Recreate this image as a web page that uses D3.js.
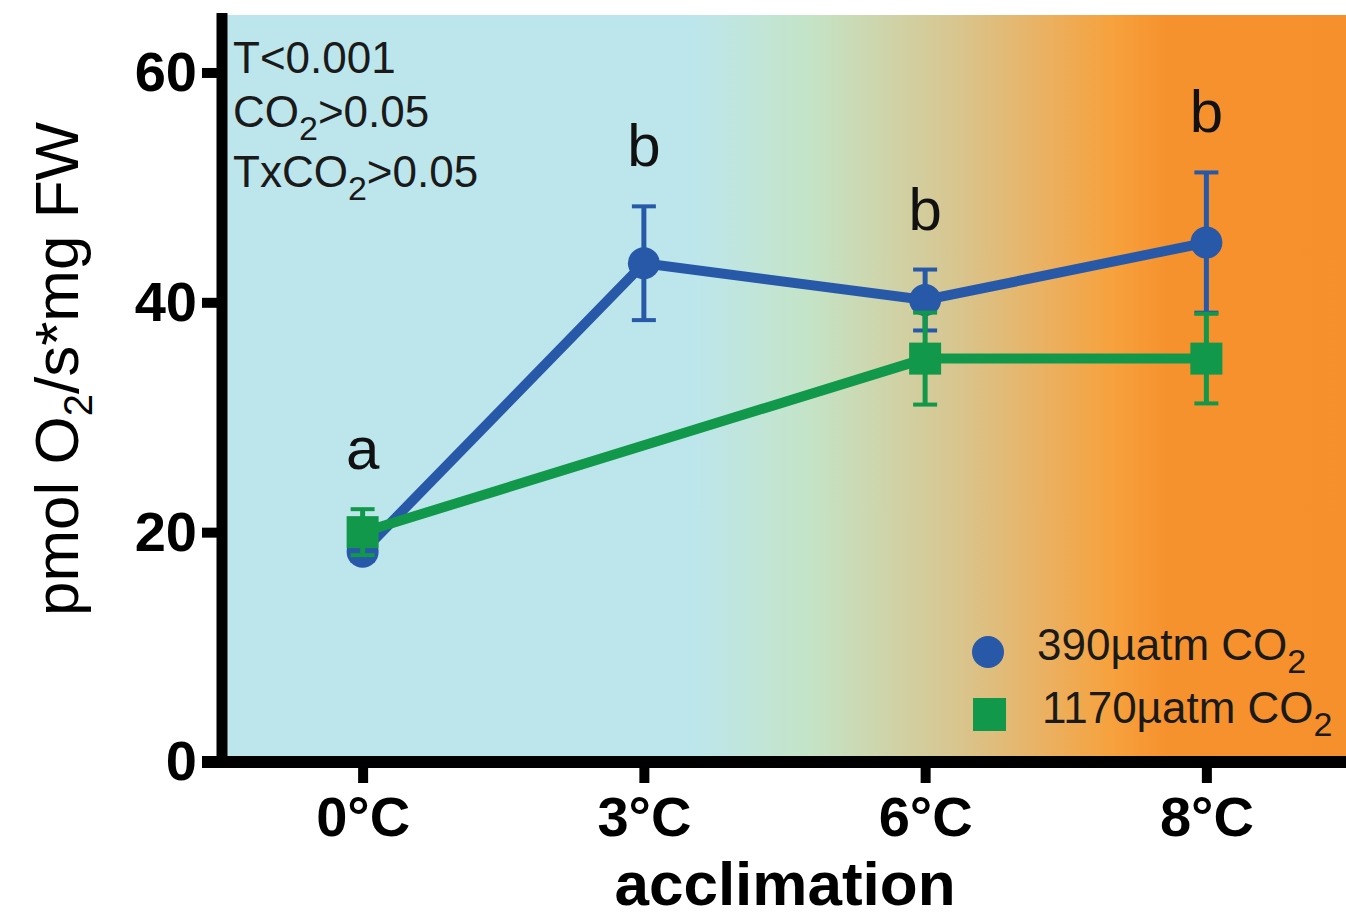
<!DOCTYPE html>
<html>
<head>
<meta charset="utf-8">
<script src="https://cdn.jsdelivr.net/npm/d3@7"></script>
<style>
  body { margin: 0; background: #fff; }
  text { font-family: "Liberation Sans", Arial, sans-serif; }
</style>
</head>
<body>
<div id="chart"></div>
<script>
// acclimation temperatures (categorical axis)
const categories = ['0°C', '3°C', '6°C', '8°C'];
const yTicks = [0, 20, 40, 60];

// 390 uatm CO2, mean and error
const blueMean = [18.3, 43.4, 40.2, 45.2];
const blueErr = [0.8, 4.95, 2.65, 6.1];
// 1170 uatm CO2 (no 3°C measurement)
const greenMean = [20.0, null, 35.1, 35.1];
const greenErr = [2.0, null, 4.0, 3.9];

const letters = ['a', 'b', 'b', 'b'];
const statLines = [['T<0.001'], ['CO', '2', '>0.05'], ['TxCO', '2', '>0.05']];
const legendLabels = ['390µatm CO', '1170µatm CO'];

const blue = '#2759a8';
const green = '#12984a';

drawChart('#chart');

function drawChart(id) {
    const width = 1346, height = 918;
    const left = 222, top = 15, bottom = 762, right = 1347;

    const svg = d3.select(id).append('svg')
        .attr('width', width)
        .attr('height', height)
        .style('display', 'block');

    const x = d3.scalePoint().domain(categories).range([left, right]).padding(0.5);
    const y = d3.scaleLinear().domain([0, 65]).range([bottom, top]);

    // background gradient cold -> warm
    const grad = svg.append('defs').append('linearGradient')
        .attr('id', 'bg').attr('x1', '0%').attr('x2', '100%');
    [[0, '#bde6ec'], [0.42, '#bde6ec'], [0.52, '#c4e4c8'], [0.655, '#d8c58e'],
     [0.735, '#ebb060'], [0.79, '#f6a23e'], [0.84, '#f6922e'], [1, '#f6902c']]
        .forEach(s => grad.append('stop').attr('offset', s[0]).attr('stop-color', s[1]));

    svg.append('rect')
        .attr('x', left).attr('y', top)
        .attr('width', width - left).attr('height', bottom - top)
        .attr('fill', 'url(#bg)');

    // stats text
    const statY = [73, 127, 187];
    statLines.forEach((l, i) => {
        const t = svg.append('text').attr('x', 233).attr('y', statY[i])
            .attr('font-size', 44).attr('fill', '#1a1a1a');
        t.append('tspan').text(l[0]);
        if (l.length > 2) {
            t.append('tspan').attr('font-size', 34).attr('dy', 13).text(l[1]);
            t.append('tspan').attr('dy', -13).text(l[2]);
        }
    });

    const series = [
        {mean: blueMean, err: blueErr, color: blue, shape: 'circle'},
        {mean: greenMean, err: greenErr, color: green, shape: 'square'}
    ];

    series.forEach(s => {
        const pts = categories.map((c, i) => ({c: c, v: s.mean[i], e: s.err[i]}))
            .filter(d => d.v != null);

        const g = svg.append('g');
        const line = d3.line().x(d => x(d.c)).y(d => y(d.v));
        g.append('path').datum(pts)
            .attr('d', line)
            .attr('fill', 'none')
            .attr('stroke', s.color)
            .attr('stroke-width', 10);

        // error bars
        g.selectAll(null).data(pts).enter().append('line')
            .attr('x1', d => x(d.c)).attr('x2', d => x(d.c))
            .attr('y1', d => y(d.v + d.e)).attr('y2', d => y(d.v - d.e))
            .attr('stroke', s.color).attr('stroke-width', 5);
        [1, -1].forEach(sign => {
            g.selectAll(null).data(pts).enter().append('line')
                .attr('x1', d => x(d.c) - 12).attr('x2', d => x(d.c) + 12)
                .attr('y1', d => y(d.v + sign * d.e))
                .attr('y2', d => y(d.v + sign * d.e))
                .attr('stroke', s.color).attr('stroke-width', 4);
        });

        if (s.shape === 'circle') {
            g.selectAll('circle').data(pts).enter().append('circle')
                .attr('cx', d => x(d.c)).attr('cy', d => y(d.v))
                .attr('r', 16).attr('fill', s.color);
        } else {
            g.selectAll('rect').data(pts).enter().append('rect')
                .attr('x', d => x(d.c) - 16).attr('y', d => y(d.v) - 16)
                .attr('width', 32).attr('height', 32).attr('fill', s.color);
        }
    });

    // significance letters above highest error bar
    svg.selectAll('.letter').data(categories).enter().append('text')
        .attr('class', 'letter')
        .attr('x', c => x(c))
        .attr('y', (c, i) => {
            const tops = series.filter(s => s.mean[i] != null).map(s => s.mean[i] + s.err[i]);
            return y(d3.max(tops)) - 40;
        })
        .attr('text-anchor', 'middle')
        .attr('font-size', 60)
        .attr('fill', '#111')
        .text((c, i) => letters[i]);

    // legend
    const legendX = 988, legendY = [652, 715];
    legendLabels.forEach((lab, i) => {
        const s = series[i];
        if (s.shape === 'circle') {
            svg.append('circle').attr('cx', legendX).attr('cy', legendY[i]).attr('r', 16).attr('fill', s.color);
        } else {
            svg.append('rect').attr('x', legendX - 15).attr('y', legendY[i] - 17)
                .attr('width', 33).attr('height', 33).attr('fill', s.color);
        }
        const t = svg.append('text').attr('x', i === 0 ? 1037 : 1042).attr('y', legendY[i] + 8)
            .attr('font-size', 44).attr('fill', '#1a1a1a');
        t.append('tspan').text(lab);
        t.append('tspan').attr('font-size', 34).attr('dy', 13).text('2');
    });

    // axes
    const yAxis = svg.append('g')
        .attr('transform', 'translate(' + left + ',0)')
        .call(d3.axisLeft(y).tickValues(yTicks).tickSize(20).tickPadding(5).tickSizeOuter(0));
    yAxis.select('.domain').attr('stroke-width', 11).attr('d', 'M0,' + (top - 2) + 'V' + (bottom + 6));
    yAxis.selectAll('.tick line').attr('stroke-width', 10);
    yAxis.selectAll('.tick text').attr('font-size', 56).attr('font-weight', 'bold')
        .attr('fill', '#000').style('font-family', '"Liberation Sans", Arial, sans-serif');

    const xAxis = svg.append('g')
        .attr('transform', 'translate(0,' + bottom + ')')
        .call(d3.axisBottom(x).tickSize(21).tickPadding(13).tickSizeOuter(0));
    xAxis.select('.domain').attr('stroke-width', 12).attr('d', 'M' + (left - 20) + ',0H' + width);
    xAxis.selectAll('.tick line').attr('stroke-width', 10);
    xAxis.selectAll('.tick text').attr('font-size', 56).attr('font-weight', 'bold')
        .attr('fill', '#000').style('font-family', '"Liberation Sans", Arial, sans-serif');

    // axis labels
    svg.append('text')
        .attr('x', 785).attr('y', 905)
        .attr('text-anchor', 'middle')
        .attr('font-size', 62).attr('font-weight', 'bold')
        .text('acclimation');

    const yl = svg.append('text')
        .attr('transform', 'translate(78,369) rotate(-90)')
        .attr('text-anchor', 'middle')
        .attr('font-size', 62);
    yl.append('tspan').text('pmol O');
    yl.append('tspan').attr('font-size', 40).attr('dy', 14).text('2');
    yl.append('tspan').attr('dy', -14).text('/s*mg FW');
}
</script>
</body>
</html>
